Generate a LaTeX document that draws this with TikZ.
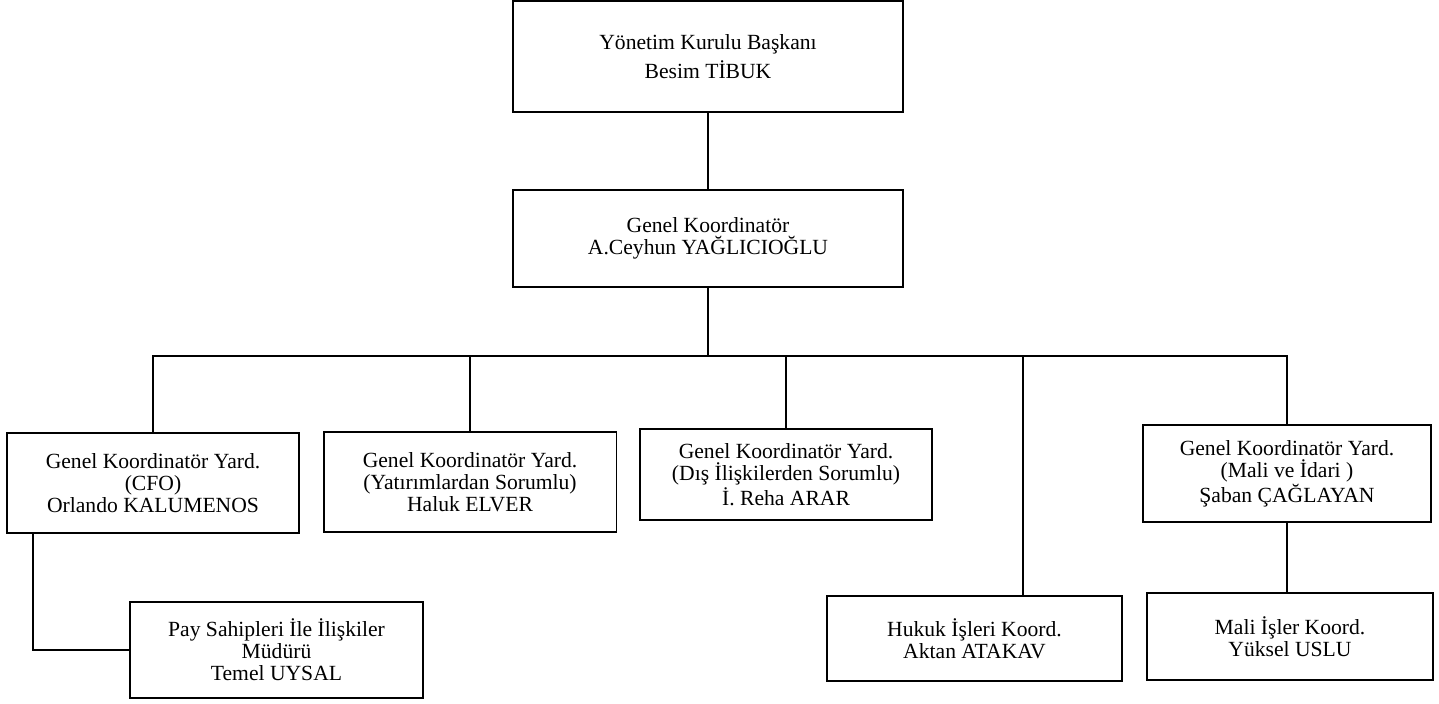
\documentclass[tikz,border=0pt]{standalone}
\usepackage{fontspec}
\setmainfont{Liberation Serif}
\usetikzlibrary{positioning,calc}

\begin{document}
\begin{tikzpicture}[
  x=0.02cm, y=-0.02cm,
  font=\fontsize{12.3}{12.6}\selectfont,
  kutu/.style={draw=black, line width=1.1pt, align=center, inner sep=2pt,
               minimum width=5.86cm, minimum height=1.9cm},
  bag/.style={draw=black, line width=1.1pt}
]
\useasboundingbox (0,0) rectangle (1439,703);

\node[kutu, minimum width=7.80cm, minimum height=2.22cm] (bsk) at (708,56.5)
  {Yönetim Kurulu Başkanı\\[3pt] Besim TİBUK};
\node[kutu, minimum width=7.80cm, minimum height=1.94cm] (gk) at (708,238.5)
  {Genel Koordinatör\\ A.Ceyhun YAĞLICIOĞLU};

\node[kutu, minimum width=5.84cm, minimum height=2.0cm] (cfo) at (153,483)
  {Genel Koordinatör Yard.\\ (CFO)\\ Orlando KALUMENOS};
\node[kutu, minimum height=2.0cm] (yat) at (470,482)
  {Genel Koordinatör Yard.\\ (Yatırımlardan Sorumlu)\\ Haluk ELVER};
\node[kutu, minimum width=5.84cm, minimum height=1.82cm] (dis) at (786,474.5)
  {Genel Koordinatör Yard.\\ (Dış İlişkilerden Sorumlu)\\ İ. Reha ARAR};
\node[kutu, minimum width=5.76cm, minimum height=1.94cm] (mal) at (1287,473.5)
  {Genel Koordinatör Yard.\\ (Mali ve İdari )\\ Şaban ÇAĞLAYAN};

\node[kutu, minimum height=1.92cm] (pay) at (276.5,650)
  {Pay Sahipleri İle İlişkiler\\ Müdürü\\ Temel UYSAL};
\node[kutu, minimum width=5.9cm, minimum height=1.7cm] (huk) at (974.5,638.5)
  {Hukuk İşleri Koord.\\ Aktan ATAKAV};
\node[kutu, minimum width=5.72cm, minimum height=1.74cm] (mis) at (1290,636.5)
  {Mali İşler Koord.\\ Yüksel USLU};

% baglantilar
\coordinate (bus) at (711,356);
\draw[bag] (bsk.south) -- (bsk.south |- gk.north);
\draw[bag] (gk.south) -- (gk.south |- bus);
\draw[bag] (cfo.north) |- (bus) -| (mal.north);
\draw[bag] (yat.north) -- (yat.north |- bus);
\draw[bag] (dis.north) -- (dis.north |- bus);
\draw[bag] ([xshift=0.97cm]huk.north) -- ([xshift=0.97cm]huk.north |- bus);
\draw[bag] (mal.south) -- (mal.south |- mis.north);
\draw[bag] ([xshift=0.54cm]cfo.south west) |- (pay.west);
\end{tikzpicture}
\end{document}
